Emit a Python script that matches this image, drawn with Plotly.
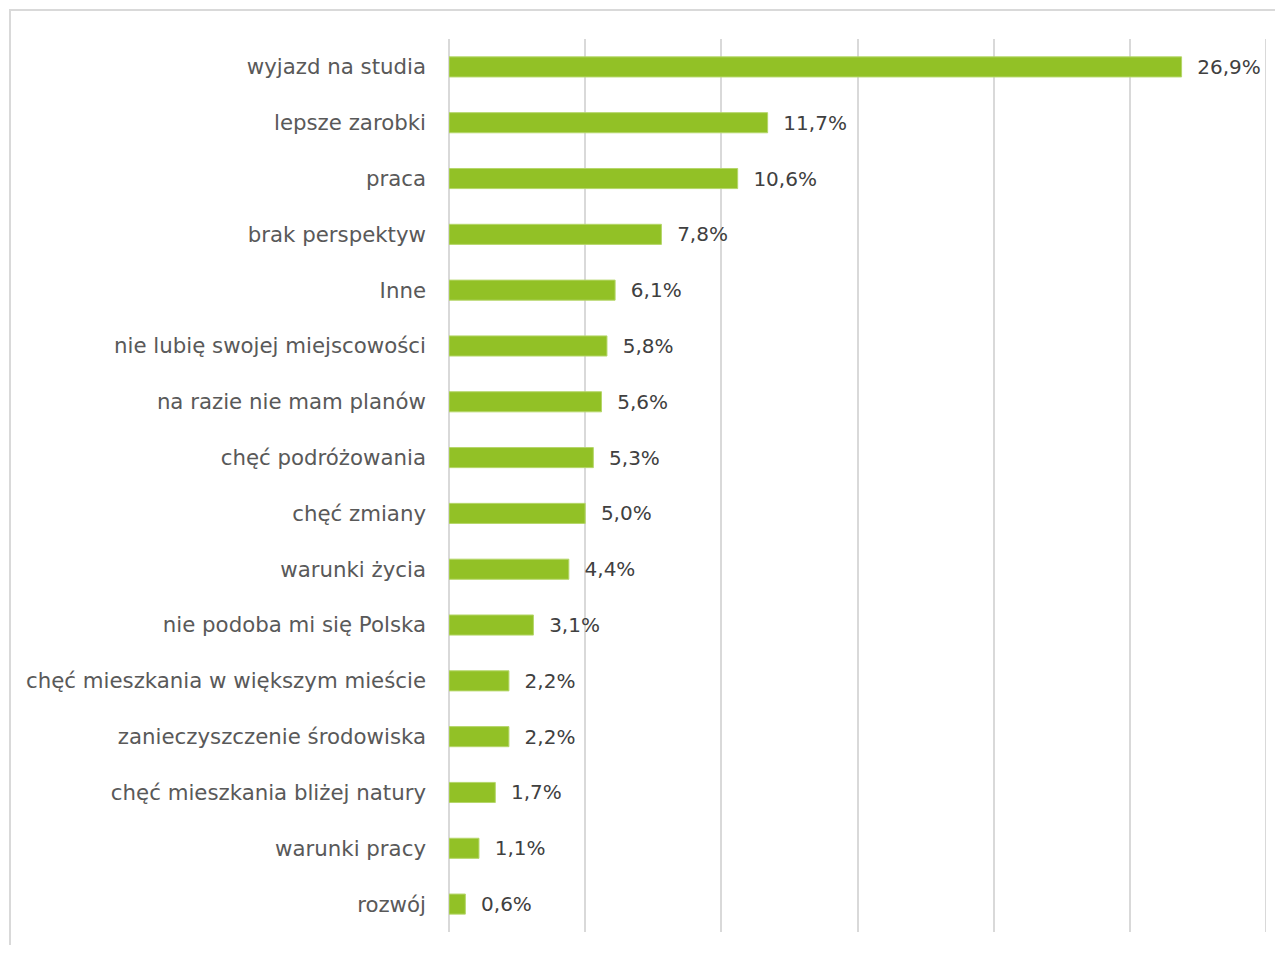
import plotly.graph_objects as go

categories = [
    "wyjazd na studia", "lepsze zarobki", "praca", "brak perspektyw", "Inne",
    "nie lubię swojej miejscowości", "na razie nie mam planów", "chęć podróżowania",
    "chęć zmiany", "warunki życia", "nie podoba mi się Polska",
    "chęć mieszkania w większym mieście", "zanieczyszczenie środowiska",
    "chęć mieszkania bliżej natury", "warunki pracy", "rozwój",
]
values = [26.9, 11.7, 10.6, 7.8, 6.1, 5.8, 5.6, 5.3, 5.0, 4.4, 3.1, 2.2, 2.2, 1.7, 1.1, 0.6]
labels = ["\u00a0\u00a0" + f"{v:.1f}".replace(".", ",") + "%" for v in values]

OFF = 8  # page body margin
W, H = 1283 - 2 * OFF, 953 - 2 * OFF
# target plot area in window pixels
L, R, T, B = 449, 1266, 39, 932
ml, mr, mt, mb = L - OFF, W - (R - OFF), T - OFF, H - (B - OFF)

fig = go.Figure(go.Bar(
    y=categories, x=values, orientation="h",
    marker=dict(color="#92C126", line=dict(color="#B5D66A", width=1)),
    width=0.36,
    text=labels, textposition="outside", cliponaxis=False, constraintext="none",
    textfont=dict(family="DejaVu Sans", size=20, color="#404040"),
))

fig.update_layout(
    width=W, height=H,
    margin=dict(l=ml, r=mr, t=mt, b=mb, pad=0),
    paper_bgcolor="white", plot_bgcolor="white",
    showlegend=False,
    font=dict(family="DejaVu Sans", size=21.3, color="#595959"),
    xaxis=dict(range=[0, 30], dtick=5, showgrid=True, gridcolor="#D9D9D9", gridwidth=2,
               zeroline=True, zerolinecolor="#D9D9D9", zerolinewidth=2,
               showticklabels=False, showline=False, fixedrange=True),
    yaxis=dict(autorange="reversed", showgrid=False, showline=False, ticks="",
               ticklabelstandoff=22, tickfont=dict(size=21.3, color="#595959")),
    shapes=[
        dict(type="rect", xref="paper", yref="paper",
             x0=(10 - L) / (R - L), x1=(1300 - L) / (R - L),
             y0=(B - 970) / (B - T), y1=(B - 10) / (B - T),
             line=dict(color="#D9D9D9", width=2), fillcolor="rgba(0,0,0,0)", layer="below"),
        dict(type="line", xref="x", yref="paper", x0=30, x1=30, y0=0, y1=1,
             line=dict(color="#D9D9D9", width=2), layer="below"),
    ],
)

fig.write_html("out.html")
